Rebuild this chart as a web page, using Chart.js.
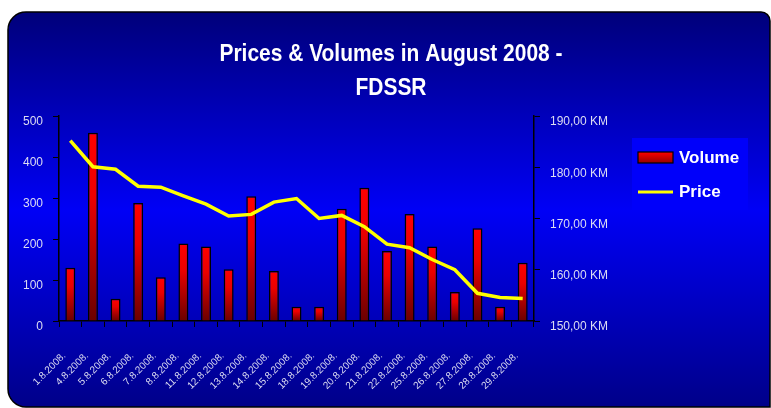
<!DOCTYPE html>
<html>
<head>
<meta charset="utf-8">
<script src="https://cdn.jsdelivr.net/npm/chart.js@4/dist/chart.umd.min.js"></script>
<style>
  html, body { margin: 0; padding: 0; background: #ffffff; }
  #wrap { width: 771px; height: 408px; position: relative; }
</style>
</head>
<body>
<div id="wrap"><canvas id="chart"></canvas></div>
<script>
// --- données ---
const titleLines = ['Prices & Volumes in August 2008 -', 'FDSSR'];
const days = ['1.8.2008.', '4.8.2008.', '5.8.2008.', '6.8.2008.', '7.8.2008.', '8.8.2008.',
    '11.8.2008.', '12.8.2008.', '13.8.2008.', '14.8.2008.', '15.8.2008.', '18.8.2008.',
    '19.8.2008.', '20.8.2008.', '21.8.2008.', '22.8.2008.', '25.8.2008.', '26.8.2008.',
    '27.8.2008.', '28.8.2008.', '29.8.2008.'];
const volumes = [130, 459, 54, 288, 107, 189, 182, 126, 304, 122, 35, 35,
    274, 325, 171, 261, 182, 71, 226, 35, 142];
const prices = [185.2, 180.1, 179.6, 176.3, 176.1, 174.4, 172.8, 170.5, 170.8, 173.2, 173.9, 170.0,
    170.6, 168.4, 165.0, 164.3, 162.0, 160.0, 155.4, 154.6, 154.4];
const volumeTicks = [0, 100, 200, 300, 400, 500];
const priceTicks = [150, 160, 170, 180, 190];

const FONT = "'Liberation Sans', Arial, sans-serif";
const TICK_COLOR = '#dcdcf2';

function barGradient(c) {
    const chart = c.chart;
    const y = chart.scales.y;
    if (c.type !== 'data' || !y) return '#e00000';
    const top = y.getPixelForValue(c.parsed.y);
    const bottom = y.getPixelForValue(0);
    if (!isFinite(top) || !isFinite(bottom) || top === bottom) return '#e00000';
    const g = chart.ctx.createLinearGradient(0, top, 0, bottom);
    g.addColorStop(0, '#ff0000');
    g.addColorStop(0.35, '#ea0000');
    g.addColorStop(1, '#6a0000');
    return g;
}

// fond arrondi en dégradé + titre + légende
const decorPlugin = {
    id: 'decor',
    beforeDraw(chart) {
        const ctx = chart.ctx;
        ctx.save();
        ctx.fillStyle = '#ffffff';
        ctx.fillRect(0, 0, chart.width, chart.height);
        const g = ctx.createLinearGradient(0, 12, 0, 408);
        g.addColorStop(0, '#00007a');
        g.addColorStop(0.5, '#0000f6');
        g.addColorStop(1, '#000088');
        ctx.beginPath();
        ctx.roundRect(8, 12, 762, 395, [18, 9, 0, 18]);
        ctx.fillStyle = g;
        ctx.fill();
        ctx.lineWidth = 1.5;
        ctx.strokeStyle = '#000000';
        ctx.stroke();
        // fond de la légende
        ctx.fillStyle = '#0000fa';
        ctx.fillRect(632, 138, 116, 72);
        ctx.restore();
    },
    afterDraw(chart) {
        const ctx = chart.ctx;
        ctx.save();
        // titre condensé
        ctx.fillStyle = '#ffffff';
        ctx.font = 'bold 24px ' + FONT;
        ctx.textBaseline = 'alphabetic';
        ctx.textAlign = 'center';
        const w = ctx.measureText(titleLines[0]).width;
        const sx = 343 / w;
        const baselines = [61, 95];
        titleLines.forEach((line, i) => {
            ctx.save();
            ctx.translate(391, baselines[i]);
            ctx.scale(sx, 1);
            ctx.fillText(line, 0, 0);
            ctx.restore();
        });

        // légende
        const volDs = chart.data.datasets.find(d => d.type === 'bar');
        const priceDs = chart.data.datasets.find(d => d.type === 'line');
        ctx.font = 'bold 17px ' + FONT;
        ctx.textAlign = 'left';
        ctx.textBaseline = 'middle';
        const sw = ctx.createLinearGradient(0, 152, 0, 164);
        sw.addColorStop(0, '#ff0000');
        sw.addColorStop(1, '#8a0000');
        ctx.fillStyle = sw;
        ctx.fillRect(638, 152, 35, 11);
        ctx.lineWidth = 1.2;
        ctx.strokeStyle = '#000000';
        ctx.strokeRect(638, 152, 35, 11);
        ctx.fillStyle = '#ffffff';
        ctx.fillText(volDs.label, 679, 158.5);

        ctx.beginPath();
        ctx.moveTo(638, 192);
        ctx.lineTo(673, 192);
        ctx.lineWidth = 3;
        ctx.strokeStyle = priceDs.borderColor;
        ctx.stroke();
        ctx.fillStyle = '#ffffff';
        ctx.fillText(priceDs.label, 679, 192.5);
        ctx.restore();
    }
};

const ctx = document.getElementById('chart').getContext('2d');
new Chart(ctx, {
    data: {
        labels: days,
        datasets: [
            {
                type: 'bar',
                label: 'Volume',
                data: volumes,
                yAxisID: 'y',
                backgroundColor: barGradient,
                borderColor: '#000000',
                borderWidth: 1.5,
                categoryPercentage: 1,
                barPercentage: 0.44,
                order: 1
            },
            {
                type: 'line',
                label: 'Price',
                data: prices,
                yAxisID: 'y1',
                borderColor: '#ffff00',
                borderWidth: 3.5,
                pointRadius: 0,
                tension: 0,
                order: 0
            }
        ]
    },
    options: {
        responsive: true,
        maintainAspectRatio: false,
        animation: false,
        layout: { padding: { top: 116, left: 0, right: 0, bottom: 0 } },
        plugins: {
            legend: { display: false },
            title: { display: false },
            tooltip: { enabled: false }
        },
        scales: {
            x: {
                offset: true,
                grid: { display: true, drawOnChartArea: false, color: '#000000', tickLength: 6, offset: true },
                border: { color: '#000000', width: 1.5 },
                ticks: {
                    color: TICK_COLOR,
                    font: { family: FONT, size: 10 },
                    maxRotation: 45,
                    minRotation: 45,
                    autoSkip: false,
                    padding: 23,
                    labelOffset: -6
                },
                afterFit: s => { s.height = 87; }
            },
            y: {
                position: 'left',
                min: volumeTicks[0],
                max: volumeTicks[volumeTicks.length - 1],
                afterBuildTicks: s => { s.ticks = volumeTicks.map(v => ({ value: v })); },
                grid: { drawOnChartArea: false, color: '#000000', tickLength: 6 },
                border: { color: '#000000', width: 1.5 },
                ticks: {
                    color: TICK_COLOR,
                    font: { family: FONT, size: 12 },
                    padding: 10,
                    labelOffset: 6
                },
                afterFit: s => { s.width = 59; }
            },
            y1: {
                position: 'right',
                min: priceTicks[0],
                max: priceTicks[priceTicks.length - 1],
                afterBuildTicks: s => { s.ticks = priceTicks.map(v => ({ value: v })); },
                grid: { drawOnChartArea: false, color: '#000000', tickLength: 6 },
                border: { color: '#000000', width: 1.5 },
                ticks: {
                    color: TICK_COLOR,
                    font: { family: FONT, size: 12 },
                    padding: 10,
                    labelOffset: 6,
                    callback: v => v.toFixed(2).replace('.', ',') + ' KM'
                },
                afterFit: s => { s.width = 237; }
            }
        }
    },
    plugins: [decorPlugin]
});
</script>
</body>
</html>
